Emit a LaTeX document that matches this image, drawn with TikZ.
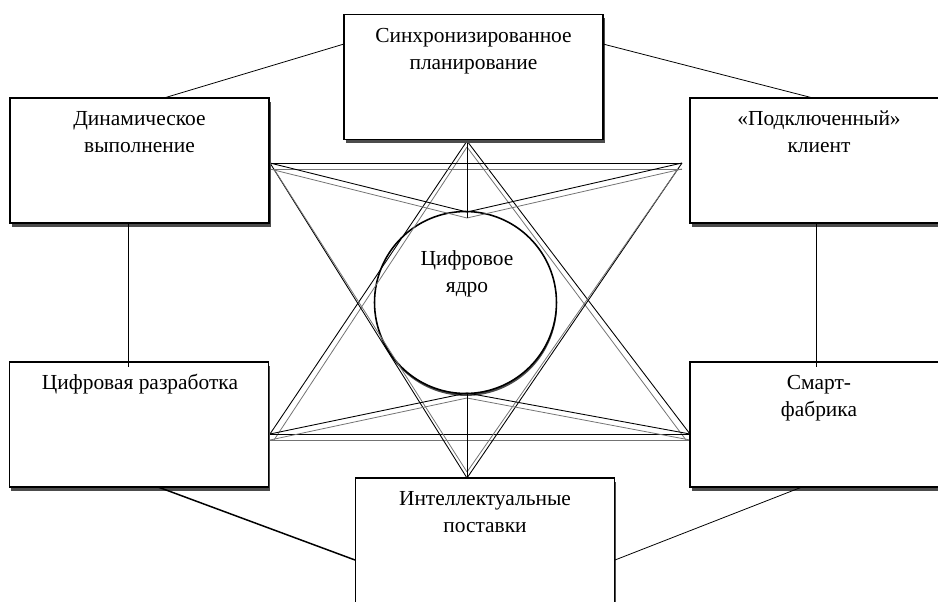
\documentclass[tikz,border=0pt]{standalone}
\usepackage{fontspec}
\setmainfont{Liberation Serif}
\usetikzlibrary{shadows}
\newcommand{\mystrut}{\rule{0pt}{10pt}}
\begin{document}
\begin{tikzpicture}[x=0.02cm,y=-0.02cm,
  box/.style={draw, line width=0.9pt, fill=white, minimum width=5.18cm, minimum height=2.5cm, inner sep=0pt,
    drop shadow={shadow xshift=0.9pt, shadow yshift=-2.2pt, fill=black!70, opacity=1}},
  core/.style={circle, draw, line width=0.9pt, fill=white, minimum size=3.64cm, inner sep=0pt,
    drop shadow={shadow xshift=0.3pt, shadow yshift=-1.4pt, fill=black!70, opacity=1}},
  lbl/.style={font=\fontsize{12.2}{15.5}\selectfont, align=center, inner sep=0pt, anchor=north},
  sa/.style={line width=0.5pt, black},
  sb/.style={line width=0.45pt, black!55},
  conn/.style={line width=0.45pt},
  connthick/.style={line width=0.85pt}]
\useasboundingbox (0,0) rectangle (938,602);
\clip (0,0) rectangle (938,602);

% central circle
\node[core] (kern) at (465.5,302.5) {};
\node[lbl] (kerntext) at (467,247.4) {\mystrut Цифровое\\ядро};

% star vertices
\coordinate (T) at (467,141);
\coordinate (Tb) at (467,147);
\coordinate (Bv) at (467,478);
\coordinate (Bb) at (467,472);
\coordinate (LTa) at (270,163);
\coordinate (LTb) at (270,169);
\coordinate (LTc) at (274,169);
\coordinate (RTa) at (682,163);
\coordinate (RTb) at (682,169);
\coordinate (RTc) at (678,169);
\coordinate (LBa) at (270,434);
\coordinate (LBb) at (270,440);
\coordinate (LBc) at (274,440);
\coordinate (RBa) at (690,434);
\coordinate (RBb) at (690,440);
\coordinate (RBc) at (686,440);
\coordinate (Ca) at (467,212);
\coordinate (Cb) at (467,218);
\coordinate (Da) at (467,393);
\coordinate (Db) at (467,398);

% triangle T-LB-RB
\draw[sa] (T) -- (LBa);
\draw[sb] (Tb) -- (LBc);
\draw[sa] (T) -- (RBa);
\draw[sb] (Tb) -- (RBc);
\draw[sa] (LBa) -- (RBa);
\draw[sb] (LBb) -- (RBb);
% triangle B-LT-RT
\draw[sa] (Bv) -- (LTa);
\draw[sb] (Bb) -- (LTc);
\draw[sa] (Bv) -- (RTa);
\draw[sb] (Bb) -- (RTc);
\draw[sa] (LTa) -- (RTa);
\draw[sb] (LTb) -- (RTb);
% spokes to the circle
\draw[sa] (LTa) -- (Ca);
\draw[sb] (LTb) -- (Cb);
\draw[sa] (RTa) -- (Ca);
\draw[sb] (RTb) -- (Cb);
\draw[sa] (LBa) -- (Da);
\draw[sb] (LBb) -- (Db);
\draw[sa] (RBa) -- (Da);
\draw[sb] (RBb) -- (Db);
\draw[sa] (T) -- (Cb);
\draw[sa] (Bv) -- (Da);

% boxes
\node[box] (plan) at (473.5,77) {};
\node[box] (dyn) at (139.5,160.5) {};
\node[box] (cli) at (819.5,160.5) {};
\node[box] (dev) at (139,424.5) {};
\node[box] (fab) at (819.5,424.5) {};
\node[box] (sup) at (485,540.5) {};

\node[lbl] (plantext) at (473.5,24.4) {\mystrut Синхронизированное\\планирование};
\node[lbl] (dyntext) at (139.5,107.4) {\mystrut Динамическое\\выполнение};
\node[lbl] (clitext) at (819,107.4) {\mystrut «Подключенный»\\клиент};
\node[lbl] (devtext) at (140,371.4) {\mystrut Цифровая разработка};
\node[lbl] (fabtext) at (819,371.4) {\mystrut Смарт-\\фабрика};
\node[lbl] (suptext) at (485,487.4) {\mystrut Интеллектуальные\\поставки};

% outer connectors
\coordinate (p1) at (344,44);
\coordinate (p2) at (164,98);
\coordinate (p3) at (603,44);
\coordinate (p4) at (813,98);
\coordinate (p5) at (128,223);
\coordinate (p6) at (128,367);
\coordinate (p7) at (816,223);
\coordinate (p8) at (816,367);
\coordinate (p9) at (158,487);
\coordinate (p10) at (355,560);
\coordinate (p11) at (802,487);
\coordinate (p12) at (615,560);
\draw[conn] (p1) -- (p2);
\draw[conn] (p3) -- (p4);
\draw[conn] (p5) -- (p6);
\draw[conn] (p7) -- (p8);
\draw[connthick] (p9) -- (p10);
\draw[conn] (p11) -- (p12);
\end{tikzpicture}
\end{document}
